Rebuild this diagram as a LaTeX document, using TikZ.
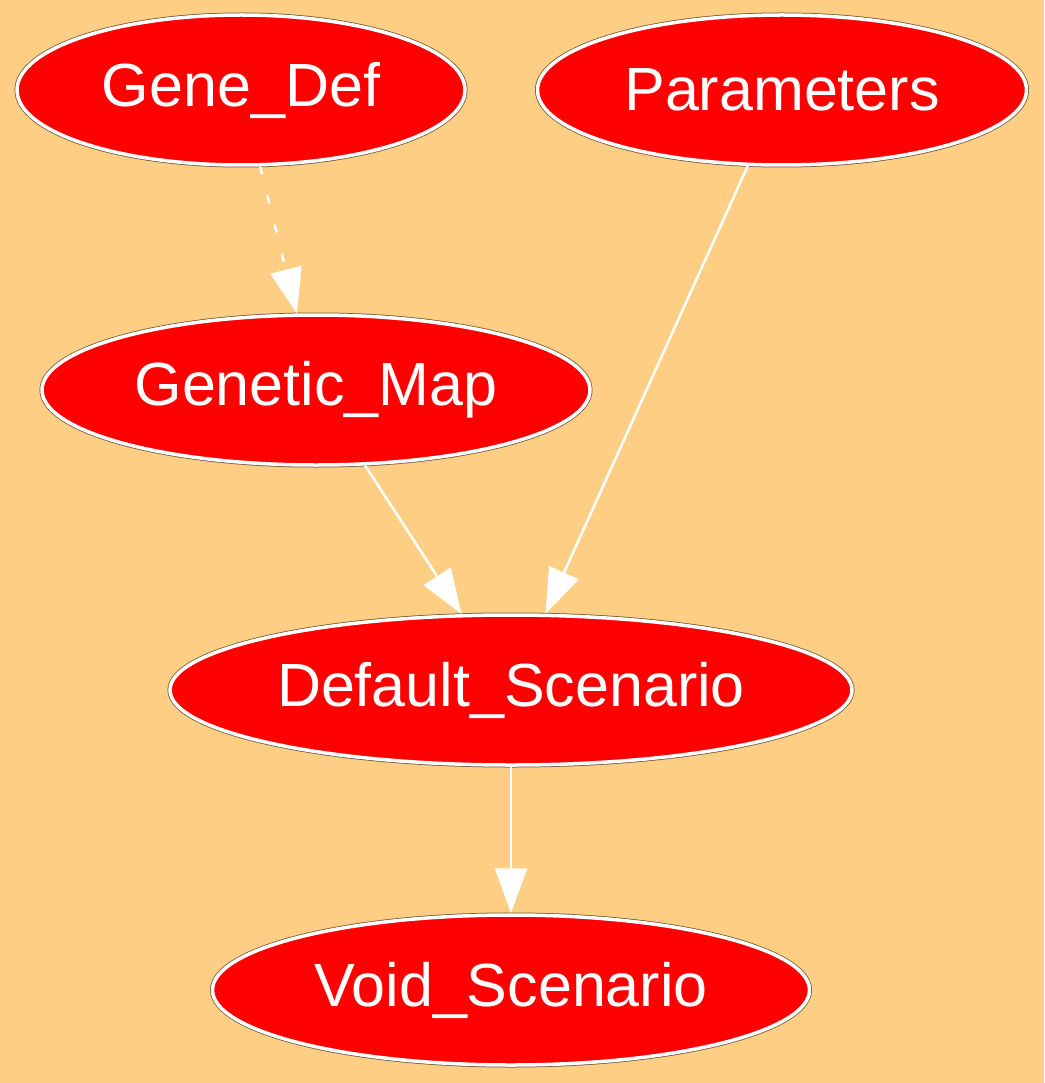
\documentclass[tikz,border=0pt]{standalone}
\usepackage{fontspec}
\setmainfont{Liberation Sans}
\usetikzlibrary{shapes.geometric, arrows.meta}
\definecolor{vpeach}{HTML}{FFCE85}
\definecolor{vred}{HTML}{FF0000}
\definecolor{vedge}{HTML}{6B5534}

\tikzset{
	blob/.style = {ellipse, draw = white, line width = 3.5pt, fill = vred, text = white, inner sep = 0pt, minimum height = 150pt, font = \fontsize{61}{63}\selectfont, preaction = {draw = vedge, line width = 5pt}},
	link/.style = {draw = white, line width = 2.5pt, -{Triangle[length = 45pt, width = 32pt, fill = white]}},
}

\begin{document}
\begin{tikzpicture}[x = 1pt, y = -1pt]
	% background
	\fill[vpeach] (0,0) rectangle (1044,1083);
	\useasboundingbox (0,0) rectangle (1044,1083);
	% nodes
	\node[blob, minimum width = 448pt] (genedef) at (241,90) {Gene\_Def};
	\node[blob, minimum width = 489pt] (params) at (782,90) {Parameters};
	\node[blob, minimum width = 548pt] (genmap) at (316,390) {Genetic\_Map};
	\node[blob, minimum width = 682pt] (default) at (511,690) {Default\_Scenario};
	\node[blob, minimum width = 597pt] (void) at (511,990) {Void\_Scenario};
	% edges
	\draw[link, dash pattern = on 8pt off 22pt] (genedef) -- (genmap);
	\draw[link] (params) -- (default);
	\draw[link] (genmap) -- (default);
	\draw[link] (default) -- (void);
\end{tikzpicture}
\end{document}
